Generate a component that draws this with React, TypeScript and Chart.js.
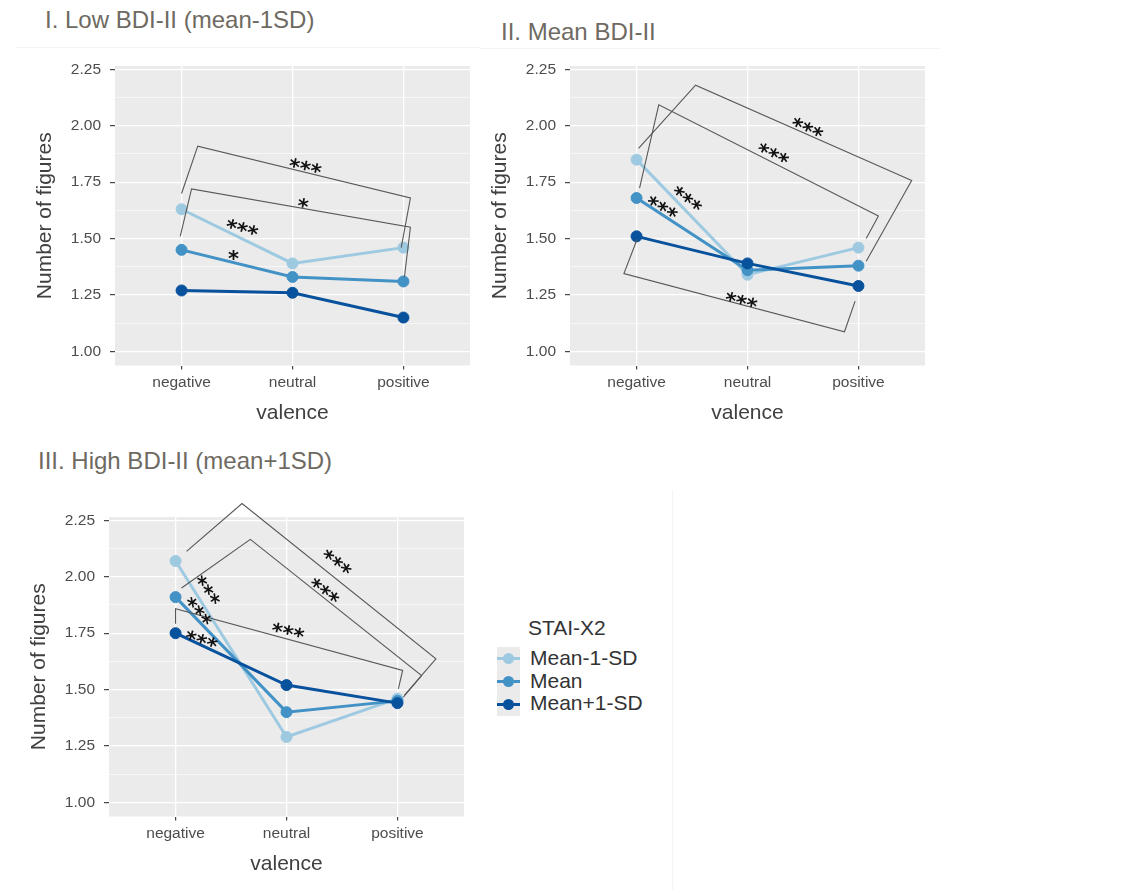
import React, { useEffect, useRef } from "react";
import { Chart, registerables } from "chart.js";

Chart.register(...registerables);

const FONT = "'Liberation Sans', Arial, sans-serif";
Chart.defaults.font.family = FONT;

// ---------- data ----------
const valence = ["negative", "neutral", "positive"];
const seriesNames = ["Mean-1-SD", "Mean", "Mean+1-SD"];
const seriesColors = ["#9ecae1", "#4292c6", "#08519c"];

const yMajorTicks = [1.0, 1.25, 1.5, 1.75, 2.0, 2.25];
const yMinorTicks = [1.125, 1.375, 1.625, 1.875, 2.125];

// I. Low BDI-II
const lowMinus1 = [1.63, 1.39, 1.46];
const lowMean = [1.45, 1.33, 1.31];
const lowPlus1 = [1.27, 1.26, 1.15];

// II. Mean BDI-II
const meanMinus1 = [1.85, 1.34, 1.46];
const meanMean = [1.68, 1.36, 1.38];
const meanPlus1 = [1.51, 1.39, 1.29];

// III. High BDI-II
const highMinus1 = [2.07, 1.29, 1.46];
const highMean = [1.91, 1.4, 1.45];
const highPlus1 = [1.75, 1.52, 1.44];

// significance brackets (valence index, value)
const lowBrackets = [
  [[0, 1.7], [0.146, 1.91], [2.063, 1.68], [1.98, 1.46]],
  [[-0.012, 1.51], [0.09, 1.72], [2.063, 1.55], [2.009, 1.33]],
];
const lowStars = [
  { x: 1.12, y: 1.83, t: "***", a: 13 },
  { x: 1.1, y: 1.665, t: "*", a: 10 },
  { x: 0.553, y: 1.558, t: "***", a: 16 },
  { x: 0.469, y: 1.433, t: "*", a: 0 },
];

const meanBrackets = [
  [[0.018, 1.9], [0.532, 2.18], [2.48, 1.757], [2.07, 1.4]],
  [[0.027, 1.724], [0.2, 2.093], [2.18, 1.6], [2.07, 1.5]],
  [[0.004, 1.496], [-0.114, 1.345], [1.874, 1.087], [1.97, 1.223]],
];
const meanStars = [
  { x: 1.55, y: 2.001, t: "***", a: 24 },
  { x: 1.243, y: 1.886, t: "***", a: 26 },
  { x: 0.472, y: 1.685, t: "***", a: 38 },
  { x: 0.243, y: 1.648, t: "***", a: 30 },
  { x: 0.95, y: 1.236, t: "***", a: 15 },
];

const highBrackets = [
  [[0.099, 2.113], [0.599, 2.325], [2.347, 1.636], [2.062, 1.474]],
  [[0.054, 1.95], [0.674, 2.166], [2.218, 1.562], [2.053, 1.466]],
  [[0, 1.792], [0, 1.858], [2.047, 1.585], [2.008, 1.503]],
];
const highStars = [
  { x: 1.469, y: 2.073, t: "***", a: 38 },
  { x: 1.358, y: 1.947, t: "***", a: 38 },
  { x: 1.019, y: 1.77, t: "***", a: 13 },
  { x: 0.308, y: 1.947, t: "***", a: 55 },
  { x: 0.225, y: 1.854, t: "***", a: 50 },
  { x: 0.24, y: 1.732, t: "***", a: 18 },
];

// ---------- plugin ----------
const annotPlugin = {
  id: "annot",
  beforeDraw(chart: any) {
    const { ctx, chartArea } = chart;
    ctx.save();
    ctx.fillStyle = "#ebebeb";
    ctx.fillRect(chartArea.left, chartArea.top, chartArea.right - chartArea.left, chartArea.bottom - chartArea.top);
    ctx.restore();
  },
  afterDatasetsDraw(chart: any, _args: any, opts: any) {
    const { ctx } = chart;
    const xs = chart.scales.x;
    const ys = chart.scales.y;
    ctx.save();
    ctx.strokeStyle = "#585858";
    ctx.lineWidth = 1.1;
    ctx.lineJoin = "miter";
    (opts.brackets || []).forEach((b: number[][]) => {
      ctx.beginPath();
      b.forEach(([vx, vy], i) => {
        const px = xs.getPixelForValue(vx);
        const py = ys.getPixelForValue(vy);
        if (i === 0) ctx.moveTo(px, py);
        else ctx.lineTo(px, py);
      });
      ctx.stroke();
    });
    const fs = 21;
    ctx.fillStyle = "#111";
    ctx.font = `bold ${fs}px 'DejaVu Sans', sans-serif`;
    ctx.textAlign = "center";
    ctx.textBaseline = "alphabetic";
    (opts.stars || []).forEach((s: any) => {
      const px = xs.getPixelForValue(s.x);
      const py = ys.getPixelForValue(s.y);
      ctx.save();
      ctx.translate(px, py);
      ctx.rotate((s.a * Math.PI) / 180);
      ctx.fillText(s.t, 0, fs * 0.58);
      ctx.restore();
    });
    ctx.restore();
  },
};

const isMajor = (v: number) => yMajorTicks.some((m) => Math.abs(m - v) < 1e-6);

function Panel(props: { left: number; top: number; series: number[][]; brackets: number[][][]; stars: any[] }) {
  const ref = useRef<HTMLCanvasElement | null>(null);
  useEffect(() => {
    const datasets = props.series.map((vals, i) => ({
      label: seriesNames[i],
      data: vals.map((v, j) => ({ x: j, y: v })),
      borderColor: seriesColors[i],
      backgroundColor: seriesColors[i],
      pointBackgroundColor: seriesColors[i],
      pointBorderColor: seriesColors[i],
      pointBorderWidth: 1,
      pointRadius: 5.5,
      borderWidth: 3,
      tension: 0,
      order: 3 - i,
    }));
    const chart = new Chart(ref.current as HTMLCanvasElement, {
      type: "line",
      data: { datasets },
      plugins: [annotPlugin],
      options: {
        animation: false,
        responsive: false,
        devicePixelRatio: 1,
        layout: { padding: { left: 0, right: 10, top: 26, bottom: 0 } },
        plugins: {
          legend: { display: false },
          tooltip: { enabled: false },
          annot: { brackets: props.brackets, stars: props.stars },
        } as any,
        scales: {
          x: {
            type: "linear",
            min: -0.6,
            max: 2.6,
            afterBuildTicks: (s: any) => {
              s.ticks = valence.map((_, i) => ({ value: i }));
            },
            afterFit: (s: any) => {
              s.height = 74.5;
            },
            ticks: {
              callback: (v: any) => valence[Math.round(v)],
              color: "#4d4d4d",
              font: { size: 15.5 },
              padding: 4,
              autoSkip: false,
              maxRotation: 0,
            },
            grid: { color: "#ffffff", lineWidth: 1.3, tickColor: "#333333", tickLength: 4, tickWidth: 1.1 },
            border: { display: false },
            title: { display: true, text: "valence", color: "#404040", font: { size: 21 }, padding: { top: 0, bottom: 14 } },
          },
          y: {
            type: "linear",
            min: 0.9375,
            max: 2.265,
            afterBuildTicks: (s: any) => {
              s.ticks = [...yMajorTicks, ...yMinorTicks].sort((a, b) => a - b).map((v) => ({ value: v }));
            },
            afterFit: (s: any) => {
              s.width = 115;
            },
            ticks: {
              callback: (v: any) => (isMajor(v) ? Number(v).toFixed(2) : ""),
              color: "#4d4d4d",
              font: { size: 15.5 },
              padding: 9,
              autoSkip: false,
            },
            grid: {
              color: "#ffffff",
              lineWidth: (c: any) => (isMajor(c.tick.value) ? 1.3 : 0.6),
              tickColor: (c: any) => (isMajor(c.tick.value) ? "#333333" : "rgba(0,0,0,0)"),
              tickLength: 5,
              tickWidth: 1.1,
            },
            border: { display: false },
            title: { display: true, text: "Number of figures", color: "#404040", font: { size: 21 }, padding: { top: 33, bottom: 0 } },
          },
        },
      } as any,
    });
    return () => chart.destroy();
  }, []);
  return <canvas ref={ref} width={480} height={400} style={{ position: "absolute", left: props.left, top: props.top }} />;
}

const titleStyle: React.CSSProperties = {
  position: "absolute",
  fontFamily: FONT,
  fontSize: 24,
  lineHeight: "28px",
  color: "#6e6a62",
  whiteSpace: "nowrap",
};

export default function App() {
  return (
    <div style={{ position: "absolute", left: 0, top: 0, width: 1122, height: 890, background: "#fff", overflow: "hidden", fontFamily: FONT }}>
      <div style={{ position: "absolute", left: 15, top: 47, width: 465, height: 1, background: "#f3f3f3" }} />
      <div style={{ position: "absolute", left: 480, top: 48, width: 460, height: 1, background: "#f3f3f3" }} />
      <div style={{ position: "absolute", left: 672, top: 490, width: 1, height: 400, background: "#f3f3f3" }} />

      <div style={{ ...titleStyle, left: 45, top: 6 }}>I. Low BDI-II (mean-1SD)</div>
      <div style={{ ...titleStyle, left: 501, top: 18 }}>II. Mean BDI-II</div>
      <div style={{ ...titleStyle, left: 38, top: 447 }}>III. High BDI-II (mean+1SD)</div>

      <Panel left={0} top={40} series={[lowMinus1, lowMean, lowPlus1]} brackets={lowBrackets} stars={lowStars} />
      <Panel left={455} top={40} series={[meanMinus1, meanMean, meanPlus1]} brackets={meanBrackets} stars={meanStars} />
      <Panel left={-6} top={491} series={[highMinus1, highMean, highPlus1]} brackets={highBrackets} stars={highStars} />

      <div style={{ position: "absolute", left: 528, top: 614, fontSize: 21, lineHeight: "28px", color: "#333" }}>STAI-X2</div>
      <div style={{ position: "absolute", left: 497, top: 647, width: 23, height: 69, background: "#ebebeb" }} />
      {seriesNames.map((name, i) => (
        <React.Fragment key={name}>
          <div style={{ position: "absolute", left: 497, top: 647 + i * 23 + 10, width: 23, height: 3, background: seriesColors[i] }} />
          <div
            style={{
              position: "absolute",
              left: 503,
              top: 647 + i * 23 + 6,
              width: 11,
              height: 11,
              borderRadius: "50%",
              background: seriesColors[i],
            }}
          />
          <div style={{ position: "absolute", left: 530, top: 647 + i * 22.5 - 1, fontSize: 21, lineHeight: "24px", color: "#333", whiteSpace: "nowrap" }}>
            {name}
          </div>
        </React.Fragment>
      ))}
    </div>
  );
}
